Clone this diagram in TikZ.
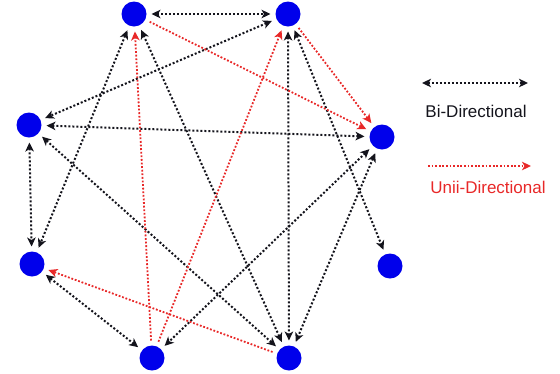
\documentclass[tikz,border=0pt]{standalone}
\usepackage{fontspec}
\setmainfont{Liberation Sans}
\usetikzlibrary{arrows.meta}
\definecolor{nodeblue}{RGB}{0,0,235}
\definecolor{linered}{RGB}{232,40,40}
\definecolor{lineblack}{RGB}{20,20,28}
\begin{document}
\begin{tikzpicture}[x=1pt,y=-1pt,
  vert/.style={circle,fill=nodeblue,minimum size=25pt,inner sep=0pt,outer sep=5pt},
  tipb/.tip={Stealth[length=9pt,width=8.5pt,inset=2.5pt]},
  bi/.style={draw=lineblack,line width=2pt,dash pattern=on 2pt off 2pt,tipb-tipb},
  uni/.style={draw=linered,line width=1.8pt,dash pattern=on 1.8pt off 1.8pt,-tipb},
  lbl/.style={font=\fontsize{17}{20}\selectfont,anchor=base}]
\useasboundingbox (0,0) rectangle (560,373);
% vertices
\node[vert] (a) at (134,14) {};
\node[vert] (b) at (288,14) {};
\node[vert] (c) at (29,125) {};
\node[vert] (d) at (382,137) {};
\node[vert] (e) at (32,264) {};
\node[vert] (f) at (390,266) {};
\node[vert] (g) at (152,358) {};
\node[vert] (h) at (289,358) {};
% bi-directional
\draw[bi] (a) -- (b);
\draw[bi] (b) -- (c);
\draw[bi] (c) -- (d);
\draw[bi] (a) -- (e);
\draw[bi] (a) -- (h);
\draw[bi] (c) -- (e);
\draw[bi] (c) -- (h);
\draw[bi] (e) -- (g);
\draw[bi] (b) -- (h);
\draw[bi] (b) -- (f);
\draw[bi] (d) -- (g);
\draw[bi] (d) -- (h);
% uni-directional
\draw[uni] (a) -- (d);
\draw[uni] (b) -- (d);
\draw[uni] (g) -- (a);
\draw[uni] (g) -- (b);
\draw[uni] (h) -- (e);
% legend
\coordinate (lb1) at (422,83);
\coordinate (lb2) at (528,83);
\coordinate (lr1) at (428,166);
\coordinate (lr2) at (531,166);
\draw[bi] (lb1) -- (lb2);
\draw[uni] (lr1) -- (lr2);
\node[lbl,text=lineblack] (tb) at (476,117) {Bi-Directional};
\node[lbl,text=linered] (tr) at (488,193) {Unii-Directional};
\end{tikzpicture}
\end{document}
